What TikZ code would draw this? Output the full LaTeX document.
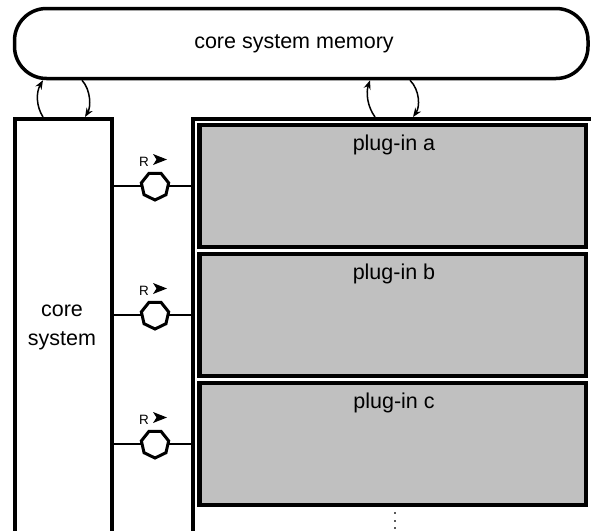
\documentclass[tikz,border=0pt]{standalone}
\usepackage{fontspec}
\setmainfont{Liberation Sans}
\usetikzlibrary{shapes.geometric,arrows.meta}
\definecolor{plugfill}{HTML}{C0C0C0}
\begin{document}
\begin{tikzpicture}[x=1pt,y=-1pt,
  lbl/.style={font=\fontsize{21.5}{29}\selectfont, inner sep=0pt, align=center},
  smalllbl/.style={font=\fontsize{13.5}{16}\selectfont, inner sep=0pt},
  bigbox/.style={draw, line width=4pt, fill=white, inner sep=0pt},
  membox/.style={draw, line width=3.5pt, fill=white, rounded corners=32pt, inner sep=0pt},
  plugbox/.style={draw, line width=4.5pt, fill=plugfill, inner sep=0pt},
  port/.style={draw, regular polygon, regular polygon sides=7, shape border rotate=180,
    minimum size=28pt, inner sep=0pt, line width=3pt, fill=white},
  conn/.style={line width=1.3pt},
  looparrow/.style={line width=1.5pt, -{Stealth[length=9pt,width=7pt]}}]
\useasboundingbox (0,0) rectangle (591,530);
\clip (0,0) rectangle (591,530);

% memory
\node[membox, minimum width=573.5pt, minimum height=70pt] (mem) at (301.25,43.5) {};
\node[lbl] (memlbl) at (294,44) {core system memory};

% core system
\node[bigbox, minimum width=97pt, minimum height=441pt] (core) at (63.5,339.5) {};
\node[lbl] (corelbl) at (62,327) {core\\system};

% plug-in container
\node[bigbox, minimum width=427pt, minimum height=441pt] (plugs) at (406.5,339.5) {};

\foreach \n/\y in {a/186,b/315,c/444}{
  \node[plugbox, minimum width=386.5pt, minimum height=122pt] (box\n) at (392.75,\y) {};
  \node[lbl, anchor=base] (lbl\n) at (394,\y-36) {plug-in \n};
  \node[port] (h\n) at (155,\y) {};
  \draw[conn] (core.east |- h\n) -- (h\n.west);
  \draw[conn] (h\n.east) -- (plugs.west |- h\n);
  \node[smalllbl, anchor=base west] (r\n) at (139,\y-20) {R};
  \fill (153,\y-32) -- (167,\y-26.5) -- (153,\y-21) -- (156.5,\y-26.5) -- cycle;
}

% loops core <-> memory
\draw[looparrow] ([xshift=30pt]core.north west) .. controls +(-7,-11) and +(-7,12) .. ([xshift=30.25pt]mem.south west);
\draw[looparrow] ([xshift=69.25pt]mem.south west) .. controls +(9,10) and +(6,-10) .. ([xshift=72pt]core.north west);

% loops plug-ins <-> memory
\draw[looparrow] ([xshift=184pt]plugs.north west) .. controls +(-8,-11) and +(-4,12) .. ([xshift=357.25pt]mem.south west);
\draw[looparrow] ([xshift=397.25pt]mem.south west) .. controls +(10,10) and +(7,-10) .. ([xshift=222pt]plugs.north west);

% continuation dots
\foreach \d in {513,521,528}
  \fill[black!65] (394,\d-1) rectangle (396,\d+1);
\end{tikzpicture}
\end{document}
